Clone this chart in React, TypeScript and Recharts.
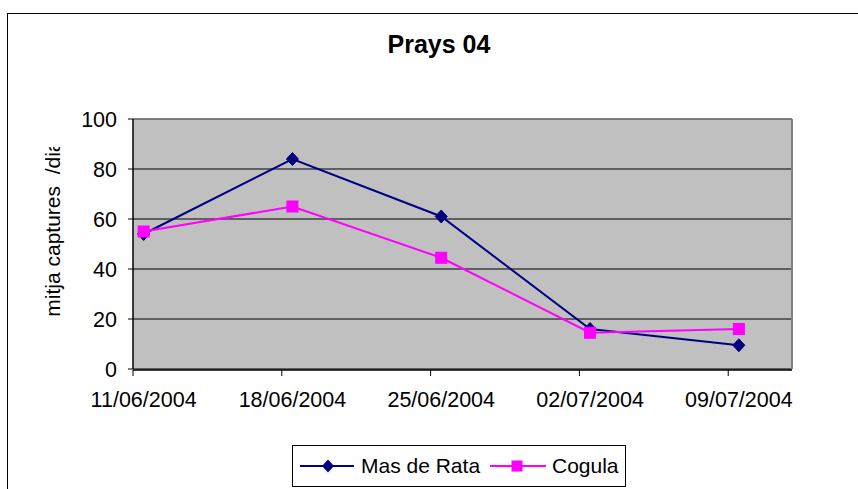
import React from 'react';
import { LineChart, Line, XAxis, YAxis, CartesianGrid, ReferenceLine } from 'recharts';

const chartTitle = 'Prays 04';
const yAxisTitle = 'mitja captures  /dia';
const dates = ['11/06/2004', '18/06/2004', '25/06/2004', '02/07/2004', '09/07/2004'];
const masDeRata = [54, 84, 61, 16, 9.5];
const cogula = [55, 65, 44.5, 14.5, 16];
const yTicks = [0, 20, 40, 60, 80, 100];
const seriesNames = ['Mas de Rata', 'Cogula'];
const seriesColors = ['#000080', '#FF00FF'];

const FONT = '"Liberation Sans", Arial, sans-serif';
const TICK_FS = 21.5;

const toDay = (s: string) => {
  const [d, m, y] = s.split('/').map(Number);
  return Date.UTC(y, m - 1, d) / 86400000;
};
const day0 = toDay(dates[0]);
const dayOffsets = dates.map((d) => toDay(d) - day0);
const xMax = dayOffsets[dayOffsets.length - 1] + 3;

const data = dates.map((d, i) => ({
  x: dayOffsets[i] + 0.5,
  label: d,
  mas: masDeRata[i],
  cogula: cogula[i],
}));
const labelTicks = data.map((d) => d.x);

const Diamond = (p: any) => {
  const { cx, cy, index } = p;
  if (cx == null || cy == null) return <g key={index} />;
  return (
    <path
      key={`d${index}`}
      d={`M${cx},${cy - 6.5}L${cx + 6},${cy}L${cx},${cy + 6.5}L${cx - 6},${cy}Z`}
      fill={seriesColors[0]}
      stroke={seriesColors[0]}
      strokeWidth={1}
    />
  );
};

const Square = (p: any) => {
  const { cx, cy, index } = p;
  if (cx == null || cy == null) return <g key={index} />;
  return (
    <rect
      key={`s${index}`}
      x={cx - 5.5}
      y={cy - 5.5}
      width={11}
      height={11}
      fill={seriesColors[1]}
      stroke={seriesColors[1]}
      strokeWidth={1}
    />
  );
};

export default function App() {
  return (
    <div
      style={{
        position: 'fixed',
        left: 0,
        top: 0,
        width: 858,
        height: 489,
        overflow: 'hidden',
        background: '#fff',
        fontFamily: FONT,
      }}
    >
      <div
        style={{
          position: 'absolute',
          left: 7,
          top: 13,
          width: 950,
          height: 600,
          border: '1px solid #000',
          boxSizing: 'border-box',
        }}
      />
      <div
        style={{
          position: 'absolute',
          left: 339,
          top: 30,
          width: 200,
          textAlign: 'center',
          fontSize: 25,
          fontWeight: 'bold',
          lineHeight: 'normal',
          color: '#000',
          whiteSpace: 'nowrap',
        }}
      >
        {chartTitle}
      </div>
      <div style={{ position: 'absolute', left: 0, top: 0 }}>
        <LineChart
          width={858}
          height={489}
          data={data}
          margin={{ top: 119, right: 66, bottom: 118, left: 0 }}
        >
          <CartesianGrid
            xAxisId="labels"
            yAxisId="y"
            vertical={false}
            fill="#C0C0C0"
            fillOpacity={1}
            stroke="#000"
            strokeWidth={1}
          />
          <XAxis
            xAxisId="ticks"
            dataKey="x"
            type="number"
            domain={[0, xMax]}
            ticks={dayOffsets}
            tickFormatter={() => ''}
            tick={{ fill: 'none', fontSize: 1 }}
            interval={0}
            tickSize={6}
            height={1}
            axisLine={{ stroke: '#000', strokeWidth: 1.5 }}
            tickLine={{ stroke: '#000', strokeWidth: 1 }}
            allowDataOverflow
          />
          <XAxis
            xAxisId="labels"
            dataKey="x"
            type="number"
            domain={[0, xMax]}
            ticks={labelTicks}
            tickFormatter={(v: number) => {
              const f = data.find((d) => Math.abs(d.x - v) < 0.01);
              return f ? f.label : '';
            }}
            interval={0}
            height={1}
            axisLine={false}
            tickLine={false}
            tickSize={0}
            tickMargin={23}
            tick={{ fill: '#000', fontSize: TICK_FS, fontFamily: FONT }}
            allowDataOverflow
          />
          <YAxis
            yAxisId="y"
            domain={[0, 100]}
            ticks={yTicks}
            interval={0}
            width={133}
            tickSize={5}
            tickMargin={11}
            axisLine={{ stroke: '#000', strokeWidth: 1.5 }}
            tickLine={{ stroke: '#000' }}
            tick={{ fill: '#000', fontSize: TICK_FS, fontFamily: FONT }}
          />
          <ReferenceLine xAxisId="labels" yAxisId="y" y={100} stroke="#808080" strokeWidth={1.5} />
          <ReferenceLine xAxisId="labels" yAxisId="y" x={xMax} stroke="#808080" strokeWidth={2} />
          <Line
            xAxisId="labels"
            yAxisId="y"
            dataKey="mas"
            name={seriesNames[0]}
            stroke={seriesColors[0]}
            strokeWidth={2}
            dot={Diamond}
            activeDot={false}
            isAnimationActive={false}
          />
          <Line
            xAxisId="labels"
            yAxisId="y"
            dataKey="cogula"
            name={seriesNames[1]}
            stroke={seriesColors[1]}
            strokeWidth={2}
            dot={Square}
            activeDot={false}
            isAnimationActive={false}
          />
        </LineChart>
      </div>
      <svg
        style={{ position: 'absolute', left: 0, top: 0 }}
        width={858}
        height={489}
        pointerEvents="none"
      >
        <defs>
          <clipPath id="ylabclip">
            <rect x={30} y={147} width={40} height={190} />
          </clipPath>
        </defs>
        <g clipPath="url(#ylabclip)">
          <text
            transform="translate(60,316.7) rotate(-90)"
            fontSize={21}
            fontFamily={FONT}
            fill="#000"
            style={{ whiteSpace: 'pre' }}
          >
            {yAxisTitle}
          </text>
        </g>
      </svg>
      <div
        style={{
          position: 'absolute',
          left: 292,
          top: 445,
          width: 334,
          height: 42,
          border: '1px solid #000',
          boxSizing: 'border-box',
          background: '#fff',
        }}
      >
        <svg width={332} height={40} style={{ position: 'absolute', left: 0, top: 0 }}>
          <line x1={7} y1={20} x2={61} y2={20} stroke={seriesColors[0]} strokeWidth={2} />
          <path d="M35,13.5L41,20L35,26.5L29,20Z" fill={seriesColors[0]} />
          <text x={68} y={27} fontSize={21} fontFamily={FONT} fill="#000">
            {seriesNames[0]}
          </text>
          <line x1={197} y1={20} x2={253} y2={20} stroke={seriesColors[1]} strokeWidth={2} />
          <rect x={218.5} y={14.5} width={11} height={11} fill={seriesColors[1]} />
          <text x={259} y={27} fontSize={21} fontFamily={FONT} fill="#000">
            {seriesNames[1]}
          </text>
        </svg>
      </div>
    </div>
  );
}
